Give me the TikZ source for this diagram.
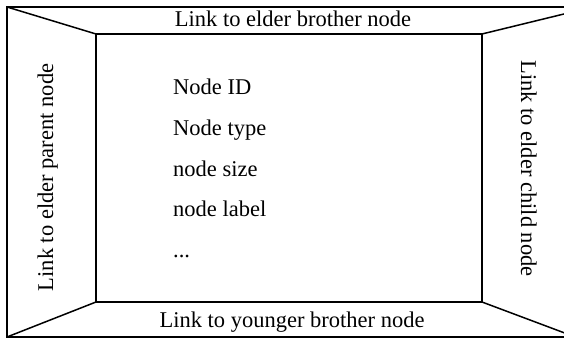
\documentclass[tikz,border=0pt]{standalone}
\usepackage{fontspec}
\setmainfont{Liberation Serif}
\usepackage{tikz}
\usetikzlibrary{positioning, calc}

\begin{document}
\begin{tikzpicture}[
        x=1pt, y=1pt,
        frame/.style={draw, line width=2pt},
        edge/.style={draw, line width=1.5pt},
        lbl/.style={font=\fontsize{22.5}{27}\selectfont, inner sep=0pt, anchor=base},
        field/.style={font=\fontsize{22.5}{27}\selectfont, inner sep=0pt, anchor=base west}
    ]
    \useasboundingbox (0,0) rectangle (564,339);
    \clip (0,0) rectangle (564,339);

    % Outer frame and inner record
    \draw[frame] (7,2) rectangle (590,332);
    \draw[frame] (96,37) rectangle (482,305);

    % Corners
    \coordinate (otl) at (7,332);
    \coordinate (obl) at (7,2);
    \coordinate (otr) at (566,325.5);
    \coordinate (obr) at (566,5.5);
    \coordinate (itl) at (96,305);
    \coordinate (ibl) at (96,37);
    \coordinate (itr) at (482,305);
    \coordinate (ibr) at (482,37);

    % Diagonals
    \draw[edge] (otl) -- (itl);
    \draw[edge] (obl) -- (ibl);
    \draw[edge] (otr) -- (itr);
    \draw[edge] (obr) -- (ibr);

    % Links
    \node[lbl] (elder) at (293,312) {Link to elder brother node};
    \node[lbl] (younger) at (292,11) {Link to younger brother node};
    \node[lbl, rotate=90] (parent) at (53,161.5) {Link to elder parent node};
    \node[lbl, rotate=-90] (child) at (521,170.5) {Link to elder child node};

    % Fields
    \node[field] (nid) at (173,244) {Node ID};
    \node[field] (ntype) at (173,203) {Node type};
    \node[field] (nsize) at (173,162) {node size};
    \node[field] (nlabel) at (173,122) {node label};
    \node[field] (ndots) at (173,81) {...};

\end{tikzpicture}
\end{document}
